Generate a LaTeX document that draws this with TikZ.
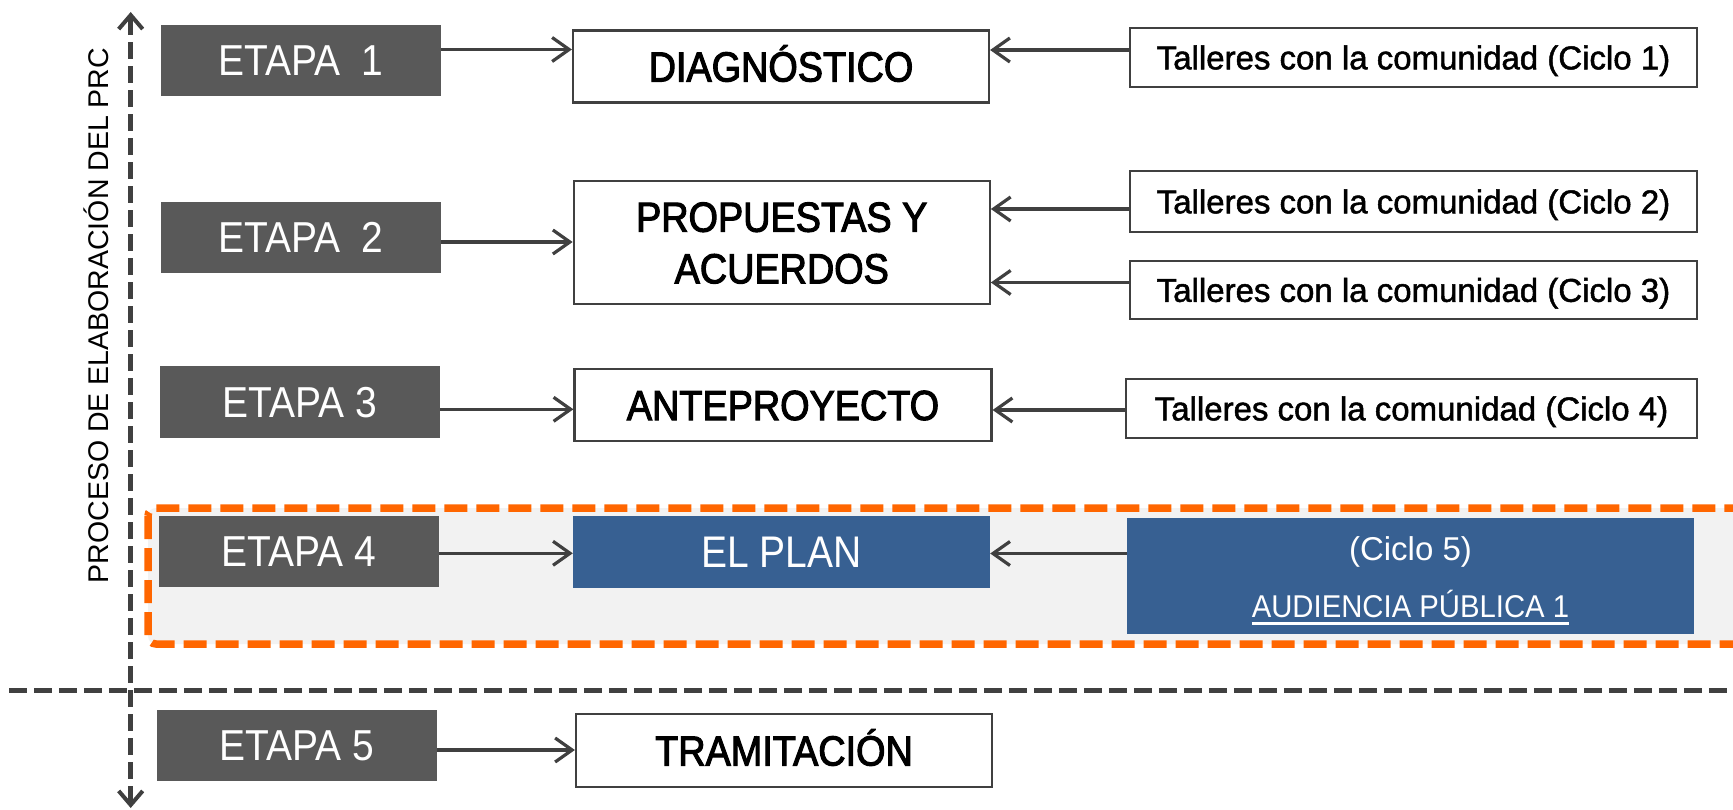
\documentclass[tikz,border=0pt]{standalone}
\usepackage{fontspec}
\setmainfont{Liberation Sans}
\newfontfamily\fcond[FakeStretch=0.9]{Liberation Sans}
\newfontfamily\fmid[FakeStretch=0.9,FakeBold=2.5]{Liberation Sans}
\newfontfamily\ftal[FakeBold=1.5]{Liberation Sans}
\newfontfamily\fblue[FakeStretch=0.88]{Liberation Sans}
\newfontfamily\fcyc[FakeStretch=0.93]{Liberation Sans}
\usetikzlibrary{arrows.meta}
\definecolor{etapagray}{HTML}{595959}
\definecolor{linegray}{HTML}{404040}
\definecolor{planblue}{HTML}{376092}
\definecolor{hlorange}{HTML}{FF6600}
\definecolor{hlfill}{HTML}{F2F2F2}
\newcommand\myul[1]{\setbox0\hbox{#1}\rlap{\rule[-7.5pt]{\wd0}{3pt}}\box0}
\tikzset{
  etapabox/.style={fill=etapagray, draw=none, text=white, inner sep=0pt,
    font=\fcond\fontsize{43.3}{50}\selectfont, minimum width=280pt, minimum height=71pt,
    text height=31pt, text depth=0pt},
  stagebox/.style={fill=white, draw=linegray, line width=2.2pt, text=black, inner sep=0pt,
    font=\fmid\fontsize{42}{51.6}\selectfont, minimum width=416pt, minimum height=72pt,
    text height=30pt, text depth=0pt, align=center},
  bluebox/.style={fill=planblue, draw=none, text=white, inner sep=0pt, align=center},
  tallerbox/.style={fill=white, draw=linegray, line width=2.2pt, text=black, inner sep=0pt,
    font=\ftal\fontsize{33}{40}\selectfont, minimum width=567pt, minimum height=59pt,
    text height=23.6pt, text depth=0pt},
  flow/.style={draw=linegray, line width=3.2pt,
    -{Straight Barb[length=17pt, width=24pt, line width=3.2pt]}},
  axisline/.style={draw=linegray, line width=4.5pt, dash pattern=on 17pt off 7pt,
    {Straight Barb[length=14pt, width=24pt, line width=4pt]}-{Straight Barb[length=14pt, width=24pt, line width=4pt]}},
  sepline/.style={draw=linegray, line width=4.5pt, dash pattern=on 18pt off 7pt},
  hlbox/.style={draw=hlorange, fill=hlfill, line width=7.5pt, dash pattern=on 23pt off 9pt,
    rounded corners=8pt}
}
\begin{document}
\begin{tikzpicture}[x=1pt,y=-1pt]
\useasboundingbox (0,0) rectangle (1733,810);
\fill[white] (0,0) rectangle (1733,810);
\clip (0,0) rectangle (1733,810);

% highlighted stage 4 band
\draw[hlbox] (148,508) rectangle (1765,644);

% stage labels
\node[etapabox] (e1) at (301,60.5) {ETAPA~~1};
\node[etapabox] (e2) at (301,237.3) {ETAPA~~2};
\node[etapabox] (e3) at (300,402) {ETAPA 3};
\node[etapabox] (e4) at (298.5,551.3) {ETAPA 4};
\node[etapabox] (e5) at (297,745.3) {ETAPA 5};

% stage contents
\node[stagebox] (diag) at (781,66.5) {DIAGNÓSTICO};
\node[stagebox, minimum height=123pt, text height=81.6pt, text depth=0pt] (prop) at (781.75,242.5) {PROPUESTAS Y\\ACUERDOS};
\node[stagebox, minimum width=417pt] (ante) at (783,405) {ANTEPROYECTO};
\node[bluebox, font=\fblue\fontsize{44.3}{50}\selectfont, minimum width=417pt, minimum height=72pt,
      text height=31.7pt, text depth=0pt] (plan) at (781.5,551.7) {EL PLAN};
\node[stagebox, minimum height=73pt] (tram) at (784,750.5) {TRAMITACIÓN};

% workshops
\node[tallerbox] (t1) at (1413.5,57.5) {Talleres con la comunidad (Ciclo 1)};
\node[tallerbox, minimum height=61pt] (t2) at (1413.5,201.5) {Talleres con la comunidad (Ciclo 2)};
\node[tallerbox, minimum height=58pt] (t3) at (1413.5,290) {Talleres con la comunidad (Ciclo 3)};
\node[tallerbox, minimum width=571pt] (t4) at (1411.5,408.5) {Talleres con la comunidad (Ciclo 4)};
\node[bluebox, font=\fcyc\fontsize{31.5}{57}\selectfont, minimum width=567pt, minimum height=116pt,
      text height=90pt, text depth=8pt] (c5) at (1410.5,576)
      {{\normalfont\fontsize{33}{57}\selectfont (Ciclo 5)}\\\myul{AUDIENCIA PÚBLICA 1}};

% vertical process axis
\coordinate (axtop) at (130.7,12);
\coordinate (axbot) at (130.7,808);
\draw[axisline] (axbot) -- (axtop);
\node[rotate=90, anchor=base, inner sep=0pt, font=\fontsize{28.5}{34}\selectfont] (proc)
  at (108.3,315.5) {PROCESO DE ELABORACIÓN DEL PRC};

% separator
\coordinate (sepl) at (9,690.7);
\coordinate (sepr) at (1733,690.7);
\draw[sepline] (sepl) -- (sepr);

% connectors
\draw[flow] (e1.east |- 0,49.5) -- (diag.west |- 0,49.5);
\draw[flow] (t1.west |- 0,50) -- (diag.east |- 0,50);
\draw[flow] (e2.east |- 0,242) -- (prop.west |- 0,242);
\draw[flow] (t2.west |- 0,209) -- (prop.east |- 0,209);
\draw[flow] (t3.west |- 0,282.5) -- (prop.east |- 0,282.5);
\draw[flow] (e3.east |- 0,409.3) -- (ante.west |- 0,409.3);
\draw[flow] (t4.west |- 0,410) -- (ante.east |- 0,410);
\draw[flow] (e4.east |- 0,553.3) -- (plan.west |- 0,553.3);
\draw[flow] (c5.west |- 0,553.5) -- (plan.east |- 0,553.5);
\draw[flow] (e5.east |- 0,750) -- (tram.west |- 0,750);
\end{tikzpicture}
\end{document}
